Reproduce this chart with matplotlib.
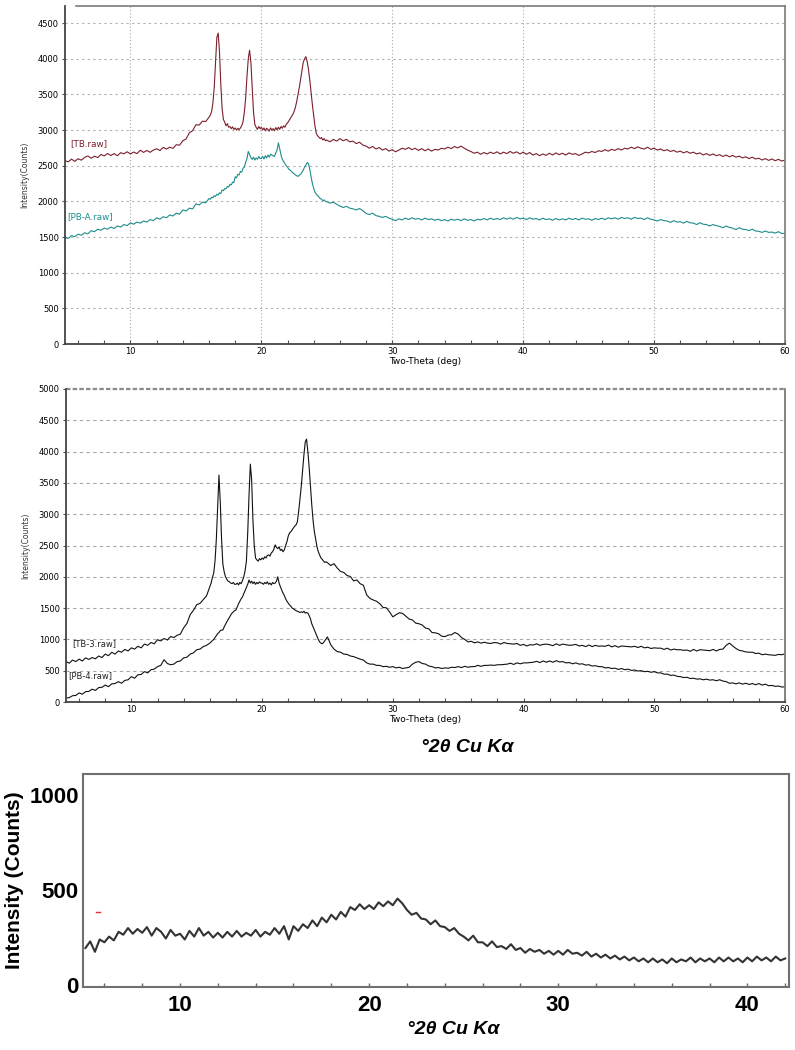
import numpy as np
import matplotlib
matplotlib.use("Agg")
import matplotlib.pyplot as plt
from matplotlib.ticker import MultipleLocator, FixedLocator

# ---------------- data ----------------
# 2-theta grids for panels 1 and 2 (coarse / fine around peaks / coarse)
x_a = np.linspace(5, 15.75, 44)
x_b = np.linspace(16, 24.9, 90)
x_c = np.linspace(25, 60, 141)
two_theta = np.concatenate([x_a, x_b, x_c])

tb_raw = [
    # 5 - 15.75 (step .25)
    2570, 2555, 2592, 2562, 2598, 2578, 2617, 2637, 2605, 2633, 2615, 2658,
    2637, 2672, 2643, 2670, 2640, 2683, 2667, 2696, 2665, 2692, 2670, 2717,
    2687, 2714, 2688, 2719, 2738, 2713, 2757, 2734, 2760, 2743, 2795, 2788,
    2850, 2875, 2962, 2992, 3075, 3070, 3125, 3120,
    # 16.0 - 24.9 (step .1)
    3180, 3210, 3260, 3380, 3600, 3950, 4300, 4360, 4100, 3650,
    3300, 3150, 3110, 3060, 3090, 3040, 3050, 3020, 3045, 3010,
    3030, 3000, 3025, 3005, 3030, 3060, 3120, 3250, 3450, 3750,
    4000, 4120, 3950, 3600, 3250, 3080, 3040, 3010, 3050, 3020,
    3040, 3000, 3030, 2990, 3025, 3010, 2985, 3030, 3000, 3020,
    2990, 3035, 3005, 3040, 3010, 3050, 3025, 3060, 3040, 3080,
    3100, 3130, 3160, 3190, 3220, 3260, 3320, 3400, 3500, 3600,
    3720, 3850, 3950, 4000, 4030, 3960, 3850, 3700, 3520, 3350,
    3200, 3050, 2950, 2920, 2900, 2880, 2895, 2860, 2880, 2850,
    # 25 - 60 (step .25)
    2860, 2835, 2870, 2845, 2880, 2850, 2870, 2835, 2845, 2810, 2830, 2790,
    2775, 2745, 2770, 2735, 2755, 2720, 2740, 2705, 2725, 2695, 2720, 2745,
    2730, 2755, 2725, 2745, 2715, 2740, 2710, 2735, 2705, 2730, 2720, 2745,
    2735, 2760, 2740, 2770, 2750, 2775, 2745, 2720, 2700, 2675, 2690, 2660,
    2685, 2665, 2690, 2670, 2695, 2665, 2690, 2670, 2700, 2675, 2695, 2665,
    2690, 2660, 2685, 2650, 2670, 2640, 2665, 2645, 2675, 2650, 2680, 2655,
    2675, 2650, 2680, 2660, 2670, 2645, 2665, 2690, 2680, 2700, 2685, 2710,
    2700, 2725, 2705, 2730, 2715, 2740, 2720, 2745, 2735, 2760, 2740, 2765,
    2745, 2735, 2760, 2730, 2745, 2720, 2735, 2710, 2725, 2700, 2715, 2690,
    2705, 2680, 2700, 2675, 2690, 2665, 2680, 2650, 2670, 2645, 2665, 2640,
    2655, 2630, 2650, 2625, 2645, 2620, 2635, 2610, 2625, 2600, 2620, 2595,
    2605, 2580, 2600, 2575, 2595, 2570, 2590, 2565, 2580,
]

pba_raw = [
    1495, 1480, 1520, 1505, 1540, 1525, 1560, 1545, 1590, 1575, 1610, 1595,
    1625, 1610, 1640, 1620, 1655, 1640, 1675, 1660, 1700, 1680, 1710, 1695,
    1725, 1710, 1745, 1730, 1770, 1750, 1785, 1770, 1810, 1795, 1835, 1820,
    1880, 1865, 1905, 1895, 1965, 1950, 1990, 1980,
    2040, 2030, 2060, 2050, 2080, 2070, 2100, 2090, 2120, 2110,
    2160, 2150, 2180, 2175, 2210, 2200, 2240, 2230, 2270, 2265,
    2345, 2330, 2380, 2370, 2420, 2410, 2465, 2480, 2550, 2600,
    2700, 2660, 2610, 2590, 2620, 2580, 2610, 2590, 2630, 2600,
    2600, 2630, 2595, 2640, 2610, 2650, 2620, 2660, 2650, 2640,
    2630, 2680, 2720, 2820, 2740, 2650, 2590, 2560, 2530, 2500,
    2480, 2450, 2440, 2420, 2400, 2390, 2370, 2360, 2350, 2370,
    2380, 2410, 2440, 2480, 2510, 2545, 2530, 2450, 2340, 2250,
    2180, 2130, 2100, 2080, 2060, 2040, 2030, 2010, 2020, 2000,
    1995, 1975, 1990, 1960, 1935, 1915, 1930, 1905, 1895, 1880, 1900, 1870,
    1830, 1815, 1835, 1800, 1790, 1775, 1790, 1765, 1750, 1730, 1755, 1740,
    1765, 1745, 1770, 1750, 1760, 1740, 1765, 1745, 1755, 1735, 1750, 1730,
    1745, 1725, 1750, 1735, 1750, 1730, 1755, 1735, 1745, 1725, 1750, 1740,
    1760, 1740, 1765, 1745, 1760, 1745, 1770, 1750, 1770, 1750, 1775, 1755,
    1765, 1745, 1770, 1750, 1760, 1740, 1765, 1745, 1755, 1735, 1760, 1740,
    1755, 1740, 1765, 1745, 1760, 1740, 1765, 1750, 1755, 1735, 1760, 1745,
    1765, 1745, 1770, 1755, 1770, 1750, 1775, 1760, 1770, 1750, 1775, 1760,
    1765, 1745, 1770, 1750, 1740, 1725, 1745, 1730, 1725, 1705, 1730, 1710,
    1715, 1695, 1720, 1700, 1695, 1675, 1700, 1680, 1675, 1655, 1675, 1660,
    1650, 1630, 1655, 1635, 1625, 1605, 1630, 1610, 1605, 1590, 1610, 1585,
    1580, 1565, 1585, 1565, 1570, 1555, 1575, 1550, 1550,
]

tb3_raw = [
    645, 620, 670, 645, 685, 655, 705, 680, 710, 690, 735, 710,
    765, 740, 795, 765, 815, 795, 840, 815, 865, 845, 890, 865,
    925, 905, 950, 930, 995, 975, 1015, 990, 1045, 1030, 1065, 1085,
    1185, 1255, 1395, 1465, 1555, 1575, 1635, 1695,
    1840, 1900, 1990, 2060, 2250, 2600, 3100, 3625, 3200, 2600,
    2200, 2080, 2000, 1960, 1930, 1920, 1900, 1890, 1910, 1880,
    1880, 1900, 1870, 1910, 1890, 1940, 2000, 2100, 2250, 2700,
    3300, 3800, 3550, 2900, 2500, 2300, 2270, 2250, 2290, 2270,
    2300, 2280, 2320, 2300, 2340, 2350, 2330, 2380, 2400, 2440,
    2510, 2470, 2450, 2480, 2420, 2440, 2400, 2430, 2500, 2560,
    2650, 2700, 2720, 2750, 2780, 2810, 2830, 2880, 3050, 3250,
    3450, 3700, 3950, 4150, 4200, 4000, 3750, 3450, 3150, 2900,
    2720, 2600, 2480, 2400, 2350, 2300, 2280, 2250, 2230, 2240,
    2225, 2180, 2210, 2140, 2085, 2070, 2020, 2005, 1935, 1950, 1890, 1865,
    1710, 1655, 1630, 1610, 1570, 1510, 1505, 1440, 1360, 1395, 1425, 1415,
    1370, 1325, 1310, 1260, 1250, 1230, 1180, 1170, 1110, 1105, 1090, 1050,
    1045, 1070, 1075, 1110, 1085, 1030, 1000, 960, 970, 945, 960, 940,
    955, 940, 935, 950, 945, 925, 950, 935, 930, 925, 935, 905,
    920, 895, 915, 910, 930, 905, 920, 925, 915, 900, 930, 905,
    925, 915, 905, 910, 920, 895, 905, 885, 910, 885, 905, 890,
    895, 890, 910, 880, 900, 875, 895, 890, 885, 880, 890, 870,
    890, 865, 875, 855, 865, 860, 860, 840, 860, 830, 845, 835,
    835, 825, 830, 810, 840, 815, 835, 830, 825, 820, 840, 815,
    840, 845, 905, 940, 895, 855, 825, 815, 800, 795, 795, 775,
    780, 755, 765, 755, 750, 745, 760, 755, 770,
]

pb4_raw = [
    62, 70, 100, 105, 145, 125, 165, 170, 205, 185, 230, 235,
    270, 245, 290, 295, 325, 300, 345, 355, 405, 380, 435, 440,
    485, 465, 515, 525, 565, 585, 675, 615, 595, 605, 645, 655,
    705, 715, 765, 785, 835, 845, 885, 905,
    940, 960, 980, 1000, 1030, 1060, 1090, 1110, 1140, 1150,
    1150, 1200, 1240, 1280, 1320, 1350, 1390, 1420, 1440, 1460,
    1470, 1520, 1570, 1610, 1650, 1680, 1730, 1780, 1830, 1880,
    1950, 1900, 1930, 1890, 1920, 1880, 1910, 1890, 1920, 1900,
    1900, 1880, 1910, 1890, 1920, 1880, 1900, 1870, 1910, 1890,
    1900, 1930, 2000, 1900, 1840, 1790, 1740, 1700, 1650, 1610,
    1580, 1550, 1530, 1500, 1490, 1470, 1460, 1450, 1440, 1430,
    1440, 1430, 1450, 1420, 1430, 1420, 1380, 1330, 1250, 1200,
    1150, 1100, 1050, 1000, 960, 940, 930, 950, 980, 1010,
    1040, 915, 845, 805, 795, 765, 760, 735, 725, 705, 685, 670,
    625, 605, 605, 585, 585, 565, 570, 555, 565, 545, 555, 535,
    545, 555, 605, 635, 645, 615, 605, 575, 565, 545, 550, 535,
    545, 540, 555, 550, 565, 550, 570, 555, 565, 565, 585, 570,
    585, 585, 590, 585, 595, 595, 600, 605, 620, 600, 625, 610,
    625, 625, 630, 635, 650, 630, 655, 635, 655, 635, 660, 640,
    645, 625, 630, 610, 625, 605, 610, 590, 595, 575, 580, 565,
    565, 545, 550, 535, 540, 520, 535, 515, 525, 505, 510, 495,
    500, 485, 490, 475, 485, 465, 465, 445, 445, 425, 430, 410,
    405, 390, 395, 375, 380, 365, 370, 355, 365, 350, 355, 340,
    355, 335, 325, 300, 305, 290, 305, 285, 300, 280, 295, 275,
    295, 270, 285, 260, 265, 250, 255, 240, 240,
]

# panel 3 (amorphous sample)
two_theta3 = np.linspace(5, 42, 149)
amorph = [
    195, 230, 175, 240, 225, 255, 235, 280, 265, 300, 270, 295,
    275, 305, 260, 300, 280, 245, 290, 260, 270, 240, 285, 255,
    300, 260, 280, 250, 275, 250, 280, 255, 285, 255, 275, 260,
    290, 255, 280, 265, 300, 270, 310, 240, 310, 285, 320, 300,
    340, 310, 355, 330, 370, 345, 385, 360, 410, 395, 425, 400,
    420, 400, 435, 415, 440, 420, 455, 430, 395, 370, 380, 350,
    345, 320, 340, 310, 305, 285, 300, 270, 255, 235, 260, 225,
    225, 205, 230, 200, 205, 190, 215, 185, 195, 170, 190, 175,
    185, 165, 180, 160, 180, 160, 185, 165, 170, 155, 175, 150,
    165, 145, 160, 140, 155, 135, 150, 130, 145, 125, 140, 120,
    140, 120, 135, 115, 140, 120, 135, 125, 145, 120, 140, 125,
    140, 120, 145, 125, 145, 125, 140, 120, 145, 125, 150, 130,
    145, 125, 150, 130, 140,
]
artifact_x = [5.55, 5.75]
artifact_y = [383, 383]

labels1 = ["[TB.raw]", "[PB-A.raw]"]
labels2 = ["[TB-3.raw]", "[PB-4.raw]"]

# ---------------- figure ----------------
W, H = 795, 1050
fig = plt.figure(figsize=(W / 100, H / 100), dpi=100)

def rect(l, t, r, b):
    return [l / W, 1 - b / H, (r - l) / W, (b - t) / H]

small_font = "DejaVu Sans"
spine_gray = "#7a7a7a"

# ---- panel 1 ----
ax1 = fig.add_axes(rect(65, 6, 785, 344))
ax1.plot(two_theta, tb_raw, color="#7b1f2b", lw=0.8)
ax1.plot(two_theta, pba_raw, color="#1f8c8c", lw=0.8)
ax1.set_xlim(5, 60)
ax1.set_ylim(0, 4740)
for yv in range(500, 5000, 500):
    ax1.axhline(yv, color="#b0b0b0", lw=0.8, ls=(0, (2, 3)), zorder=0)
for xv in range(10, 60, 10):
    ax1.axvline(xv, color="#a8a8a8", lw=0.8, ls=(0, (1, 2)), zorder=0)
ax1.text(5.4, 2805, labels1[0], color="#7b1f2b", fontsize=6.3,
         family=small_font, va="center")
ax1.text(5.2, 1780, labels1[1], color="#1f8c8c", fontsize=6.3,
         family=small_font, va="center")
ax1.set_yticks(range(0, 5000, 500))
ax1.xaxis.set_major_locator(FixedLocator([10, 20, 30, 40, 50, 60]))
ax1.xaxis.set_minor_locator(MultipleLocator(2))
ax1.tick_params(axis="x", which="both", direction="in", length=3,
                width=0.8, color="#555555", labelsize=6, pad=2)
ax1.tick_params(axis="y", direction="out", length=2.5, width=0.8,
                color="#555555", labelsize=6, pad=2)
for lab in ax1.get_xticklabels() + ax1.get_yticklabels():
    lab.set_family(small_font)
ax1.set_xlabel("Two-Theta (deg)", fontsize=6.5, family=small_font, labelpad=1)
ax1.set_ylabel("Intensity(Counts)", fontsize=5.5, family=small_font,
               labelpad=6, color="#333333")
for s in ["left", "bottom"]:
    ax1.spines[s].set_color("#444444")
    ax1.spines[s].set_linewidth(1.3)
for s in ["top", "right"]:
    ax1.spines[s].set_color(spine_gray)
    ax1.spines[s].set_linewidth(1.2)
ax1.spines["top"].set_bounds(5.85, 60)

# ---- panel 2 ----
ax2 = fig.add_axes(rect(66, 389, 785, 702))
ax2.plot(two_theta, tb3_raw, color="#111111", lw=0.8)
ax2.plot(two_theta, pb4_raw, color="#111111", lw=0.8)
ax2.set_xlim(5, 60)
ax2.set_ylim(0, 5000)
for yv in range(500, 5000, 500):
    ax2.axhline(yv, color="#a8a8a8", lw=0.8, ls=(0, (3, 3)), zorder=0)
ax2.axhline(5000, color="#8a8a8a", lw=1.6, ls=(0, (2, 1)), zorder=0,
            clip_on=False)
ax2.text(5.5, 930, labels2[0], color="#222222", fontsize=6,
         family=small_font, va="center")
ax2.text(5.2, 415, labels2[1], color="#222222", fontsize=6,
         family=small_font, va="center")
ax2.set_yticks(range(0, 5001, 500))
ax2.xaxis.set_major_locator(FixedLocator([10, 20, 30, 40, 50, 60]))
ax2.xaxis.set_minor_locator(MultipleLocator(2))
ax2.tick_params(axis="x", which="both", direction="in", length=3,
                width=0.8, color="#555555", labelsize=6, pad=2)
ax2.tick_params(axis="y", direction="out", length=2.5, width=0.8,
                color="#555555", labelsize=6, pad=2)
for lab in ax2.get_xticklabels() + ax2.get_yticklabels():
    lab.set_family(small_font)
ax2.set_xlabel("Two-Theta (deg)", fontsize=6.5, family=small_font, labelpad=1)
ax2.set_ylabel("Intensity(Counts)", fontsize=5.5, family=small_font,
               labelpad=6, color="#333333")
ax2.spines["top"].set_visible(False)
for s in ["left", "bottom"]:
    ax2.spines[s].set_color("#444444")
    ax2.spines[s].set_linewidth(1.3)
ax2.spines["right"].set_color(spine_gray)
ax2.spines["right"].set_linewidth(1.3)

# ---- title-like label between panels ----
fig.text(467 / W, 1 - 748 / H, "°2θ Cu Kα", fontsize=14, fontweight="bold",
         style="italic", family="Liberation Sans", ha="center", va="center")

# ---- panel 3 ----
ax3 = fig.add_axes(rect(83, 774, 789, 987))
ax3.plot(two_theta3, amorph, color="#333333", lw=1.5)
ax3.plot(artifact_x, artifact_y, color="#e03030", lw=1.0)
ax3.set_xlim(4.87, 42.2)
ax3.set_ylim(-10, 1110)
ax3.set_yticks([0, 500, 1000])
ax3.xaxis.set_major_locator(FixedLocator([10, 20, 30, 40]))
ax3.xaxis.set_minor_locator(MultipleLocator(2))
ax3.tick_params(axis="x", which="both", direction="in", length=3,
                width=1, color="#666666", labelsize=16, pad=6)
ax3.tick_params(axis="y", length=0, labelsize=16, pad=3)
for lab in ax3.get_xticklabels() + ax3.get_yticklabels():
    lab.set_family("Liberation Sans")
    lab.set_fontweight("bold")
ax3.set_ylabel("Intensity (Counts)", fontsize=15, fontweight="bold",
               family="Liberation Sans", labelpad=4)
for s in ax3.spines.values():
    s.set_color("#707070")
    s.set_linewidth(1.5)

fig.text(453 / W, 1 - 1030 / H, "°2θ Cu Kα", fontsize=14, fontweight="bold",
         style="italic", family="Liberation Sans", ha="center", va="center")

fig.savefig("out.png", dpi=100, facecolor="white")
